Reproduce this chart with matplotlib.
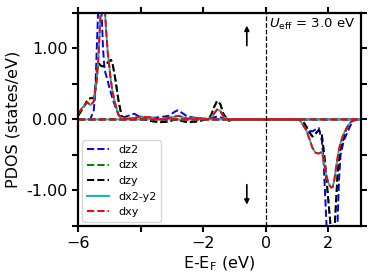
import matplotlib
matplotlib.use("Agg")
import matplotlib.pyplot as plt
from matplotlib.ticker import FormatStrFormatter, MultipleLocator

# ---- spin-up data ----
E_up = [-6.0, -5.85, -5.7, -5.6, -5.5, -5.45, -5.4, -5.35, -5.3, -5.25, -5.2, -5.15,
        -5.1, -5.05, -5.0, -4.95, -4.9, -4.8, -4.7, -4.6, -4.4, -4.2, -4.0, -3.7,
        -3.4, -3.1, -2.9, -2.8, -2.7, -2.5, -2.2, -1.9, -1.75, -1.65, -1.55, -1.45,
        -1.35, -1.2, -1.0, 3.0]
dz2_up = [0.0, 0.0, 0.0, 0.01, 0.12, 0.35, 1.0, 1.6, 1.85, 1.55, 1.0, 0.7,
          0.62, 0.55, 0.45, 0.38, 0.3, 0.17, 0.06, 0.02, 0.05, 0.08, 0.03, 0.02,
          0.03, 0.05, 0.11, 0.13, 0.1, 0.04, 0.02, 0.01, 0.02, 0.03, 0.04, 0.03,
          0.01, 0.0, 0.0, 0.0]
dzy_up = [0.05, 0.15, 0.27, 0.3, 0.3, 0.42, 0.68, 0.8, 0.77, 0.75, 0.75, 0.76,
          0.78, 0.8, 0.82, 0.84, 0.8, 0.55, 0.25, 0.04, 0.0, 0.02, 0.01, -0.02,
          -0.04, -0.03, 0.0, 0.01, -0.02, -0.04, -0.03, 0.0, 0.05, 0.17, 0.26, 0.22,
          0.08, -0.02, 0.0, 0.0]
dzx_up = dzy_up
dxy_up = [0.08, 0.17, 0.24, 0.2, 0.25, 0.4, 0.55, 0.85, 1.3, 1.7, 1.9, 1.6,
          1.25, 0.95, 0.75, 0.55, 0.4, 0.2, 0.06, 0.02, 0.01, 0.02, 0.04, 0.03,
          0.0, 0.02, 0.04, 0.05, 0.04, 0.01, 0.02, 0.0, 0.02, 0.08, 0.14, 0.12,
          0.04, 0.0, 0.0, 0.0]
dx2y2_up = dxy_up

# ---- spin-down data (magnitudes) ----
E_dn = [-6.0, 1.0, 1.1, 1.2, 1.3, 1.4, 1.5, 1.6, 1.7, 1.8, 1.85, 1.9, 1.95, 2.0,
        2.05, 2.1, 2.15, 2.2, 2.25, 2.3, 2.35, 2.4, 2.5, 2.6, 2.7, 2.8, 3.0]
dz2_dn = [0.0, 0.0, 0.0, 0.02, 0.1, 0.16, 0.17, 0.14, 0.12, 0.3, 0.55, 1.0, 1.5, 1.8,
          1.9, 1.9, 1.9, 1.9, 1.8, 1.5, 0.85, 0.5, 0.3, 0.2, 0.1, 0.02, 0.0]
dzy_dn = [0.0, 0.0, 0.0, 0.04, 0.1, 0.18, 0.24, 0.2, 0.15, 0.22, 0.4, 0.6, 0.85, 1.1,
          1.35, 1.6, 1.7, 1.6, 1.2, 0.8, 0.55, 0.4, 0.25, 0.12, 0.05, 0.01, 0.0]
dzx_dn = dzy_dn
dxy_dn = [0.0, 0.0, 0.01, 0.08, 0.15, 0.27, 0.4, 0.47, 0.48, 0.46, 0.55, 0.68, 0.8, 0.88,
          0.93, 0.96, 0.95, 0.85, 0.7, 0.55, 0.42, 0.33, 0.2, 0.12, 0.05, 0.01, 0.0]
dx2y2_dn = dxy_dn

labels = ["dz2", "dzx", "dzy", "dx2-y2", "dxy"]
colors = ["blue", "green", "black", "c", "red"]
styles = ["--", "--", "--", "-", "--"]
ups = [dz2_up, dzx_up, dzy_up, dx2y2_up, dxy_up]
dns = [dz2_dn, dzx_dn, dzy_dn, dx2y2_dn, dxy_dn]

fig = plt.figure(figsize=(3.74, 2.8), dpi=100)
ax = fig.add_axes([0.2086, 0.193, 0.7564, 0.761])

for lab, c, ls, u, d in zip(labels, colors, styles, ups, dns):
    ax.plot(E_up, u, color=c, ls=ls, lw=1.4, label=lab)
    ax.plot(E_dn, [-v for v in d], color=c, ls=ls, lw=1.4)

ax.axvline(0, color="black", ls="--", lw=0.9)

ax.set_xlim(-6, 3.05)
ax.set_ylim(-1.5, 1.5)
ax.set_xticks([-6, -4, -2, 0, 2])
ax.set_xticklabels(["\u22126", "", "\u22122", "0", "2"])
ax.set_yticks([-1.0, 0.0, 1.0])
ax.yaxis.set_minor_locator(MultipleLocator(0.5))
ax.yaxis.set_major_formatter(FormatStrFormatter("%.2f"))
ax.tick_params(axis="both", which="both", direction="out", top=True, right=True,
               labelsize=11.5, width=1.5, length=4.5, pad=3)
for s in ax.spines.values():
    s.set_linewidth(1.6)

ax.set_xlabel(r"E-E$_\mathrm{F}$ (eV)", fontsize=11.5, labelpad=2)
ax.set_ylabel("PDOS (states/eV)", fontsize=11.5, labelpad=4)

ax.annotate("", xy=(-0.6, 1.36), xytext=(-0.6, 1.0),
            arrowprops=dict(arrowstyle="-|>", color="black", lw=1.2, mutation_scale=7))
ax.annotate("", xy=(-0.6, -1.24), xytext=(-0.6, -0.88),
            arrowprops=dict(arrowstyle="-|>", color="black", lw=1.2, mutation_scale=7))
ax.text(0.1, 1.29, r"$U_{\rm eff}$ = 3.0 eV", fontsize=9.5, va="baseline")

ax.legend(loc="lower left", fontsize=8, handlelength=2.0, borderaxespad=0.4)

fig.savefig("out.png", dpi=100)
